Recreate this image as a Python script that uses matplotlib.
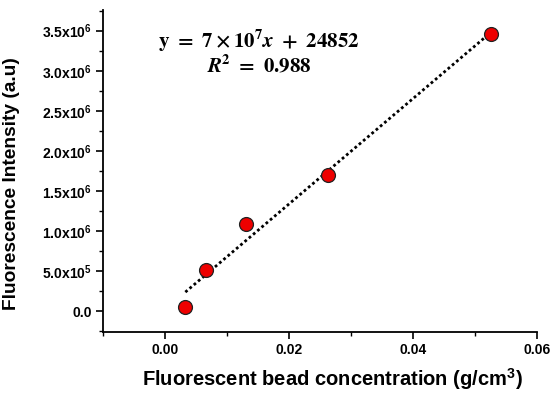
import numpy as np
import matplotlib
matplotlib.use("Agg")
import matplotlib.pyplot as plt
from matplotlib.ticker import MultipleLocator, FuncFormatter

# bead concentration (g/cm3) and measured intensity (a.u)
conc = [0.0033, 0.0066, 0.0131, 0.0263, 0.0526]
intensity = [0.05e6, 0.51e6, 1.09e6, 1.70e6, 3.46e6]

plt.rcParams['font.family'] = ['Liberation Sans', 'DejaVu Sans']
plt.rcParams['font.weight'] = 'bold'
plt.rcParams['mathtext.fontset'] = 'custom'
plt.rcParams['mathtext.rm'] = 'Liberation Sans:bold'
plt.rcParams['mathtext.bf'] = 'Liberation Sans:bold'
plt.rcParams['mathtext.it'] = 'Liberation Sans:bold'

fig = plt.figure(figsize=(5.53, 3.93), dpi=100)
ax = fig.add_axes([0.186, 0.155, 0.785, 0.820])

# linear fit
slope, icpt = np.polyfit(conc, intensity, 1)
xf = np.array([conc[0], conc[-1]])
ax.plot(xf, slope * xf + icpt, color='black', linestyle=(0, (1, 1)), lw=2, zorder=2)
ax.plot(conc, intensity, 'o', color='#ee0000', markeredgecolor='#222222',
        markeredgewidth=0.9, markersize=10, zorder=3)

ax.set_xlim(-0.01, 0.06)
ax.set_ylim(-0.26e6, 3.76e6)
ax.xaxis.set_major_locator(MultipleLocator(0.02))
ax.xaxis.set_minor_locator(MultipleLocator(0.01))
ax.yaxis.set_major_locator(MultipleLocator(0.5e6))
ax.yaxis.set_minor_locator(MultipleLocator(0.25e6))
ax.xaxis.set_major_formatter(FuncFormatter(lambda v, p: f"{v:.2f}"))


def yfmt(v, p):
    if abs(v) < 1:
        return "0.0"
    e = int(np.floor(np.log10(abs(v))))
    return f"{v / 10**e:.1f}x10$^{{{e}}}$"


ax.yaxis.set_major_formatter(FuncFormatter(yfmt))

for s in ['top', 'right']:
    ax.spines[s].set_visible(False)
for s in ['left', 'bottom']:
    ax.spines[s].set_linewidth(1.3)
ax.tick_params(which='major', length=5, width=1.2, labelsize=10, pad=3)
ax.tick_params(which='minor', length=3, width=1.0)

ax.set_xlabel("Fluorescent bead concentration (g/cm$^{3}$)", fontsize=14.5, fontweight='bold')
ax.set_ylabel("Fluorescence Intensity (a.u)", fontsize=13.8, fontweight='bold')
ax.xaxis.set_label_coords(0.528, -0.105)
ax.yaxis.set_label_coords(-0.19, 0.46)

ax.text(0.0152, 3.37e6, r"$\mathbf{y\ =\ 7\times10^{7}}\boldsymbol{x}\mathbf{\ +\ 24852}$",
        math_fontfamily='stix', fontsize=15, ha='center', va='center')
ax.text(0.0152, 3.07e6, r"$\boldsymbol{R}^{\mathbf{2}}\mathbf{\ =\ 0.988}$",
        math_fontfamily='stix', fontsize=15, ha='center', va='center')

fig.savefig("out.png", dpi=100)
